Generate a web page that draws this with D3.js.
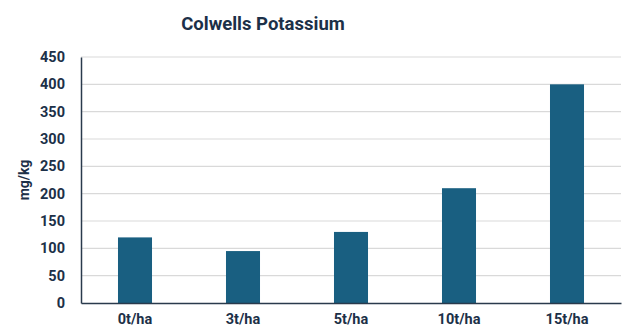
<!DOCTYPE html>
<html>
<head>
<meta charset="utf-8">
<script src="https://cdn.jsdelivr.net/npm/d3@7"></script>
<style>
  html, body { margin: 0; padding: 0; background: #fff; }
  svg { display: block; font-family: Roboto, "Liberation Sans", sans-serif; }
</style>
</head>
<body>
<svg id="chart" width="624" height="329"></svg>
<script>
// Colwells potassium by application rate
const categories = ["0t/ha", "3t/ha", "5t/ha", "10t/ha", "15t/ha"];
const potassium = [120, 95, 130, 210, 400];
const yTicks = [0, 50, 100, 150, 200, 250, 300, 350, 400, 450];
const titleText = "Colwells Potassium";
const yLabelText = "mg/kg";

const svg = d3.select("#chart");
const textColor = "#1c3048";
const barColor = "#195f81";
const font = "Roboto, sans-serif";

const margin = { left: 81, right: 3, top: 57, bottom: 26 };
const W = 624, H = 329;

const x = d3.scaleBand()
  .domain(categories)
  .range([margin.left, W - margin.right])
  .paddingInner(0.685)
  .paddingOuter(0.3425);

const y = d3.scaleLinear()
  .domain([0, 450])
  .range([H - margin.bottom, margin.top]);

// gridlines
svg.append("g")
  .selectAll("line")
  .data(yTicks.filter(d => d > 0))
  .join("line")
  .attr("x1", margin.left)
  .attr("x2", W - margin.right)
  .attr("y1", d => y(d))
  .attr("y2", d => y(d))
  .attr("stroke", "#d9d9d9")
  .attr("stroke-width", 1.2);

// bars
svg.append("g")
  .selectAll("rect")
  .data(categories)
  .join("rect")
  .attr("x", d => x(d))
  .attr("width", x.bandwidth())
  .attr("y", (d, i) => y(potassium[i]))
  .attr("height", (d, i) => y(0) - y(potassium[i]))
  .attr("fill", barColor);

// y axis
const yAxis = svg.append("g")
  .attr("transform", `translate(${margin.left},0)`)
  .call(d3.axisLeft(y).tickValues(yTicks).tickSize(0).tickPadding(16));
yAxis.select(".domain").attr("stroke", "#2a3a4c").attr("stroke-width", 1.5);
yAxis.selectAll("text")
  .attr("fill", textColor)
  .attr("font-size", 14.5)
  .attr("font-weight", 700)
  .attr("font-family", font);

// x axis
const xAxis = svg.append("g")
  .attr("transform", `translate(0,${y(0)})`)
  .call(d3.axisBottom(x).tickSize(0).tickPadding(11));
xAxis.select(".domain").attr("stroke", "#2a3a4c").attr("stroke-width", 1.5);
xAxis.selectAll("text")
  .attr("fill", textColor)
  .attr("font-size", 14.5)
  .attr("font-weight", 700)
  .attr("font-family", font);

// title
svg.append("text")
  .attr("x", 263)
  .attr("y", 30)
  .attr("text-anchor", "middle")
  .attr("fill", textColor)
  .attr("font-size", 18.5)
  .attr("font-weight", 700)
  .attr("font-family", font)
  .text(titleText);

// y label
svg.append("text")
  .attr("transform", `translate(29,${(y(0) + y(450)) / 2}) rotate(-90)`)
  .attr("text-anchor", "middle")
  .attr("fill", textColor)
  .attr("font-size", 14)
  .attr("font-weight", 700)
  .attr("font-family", font)
  .text(yLabelText);
</script>
</body>
</html>
